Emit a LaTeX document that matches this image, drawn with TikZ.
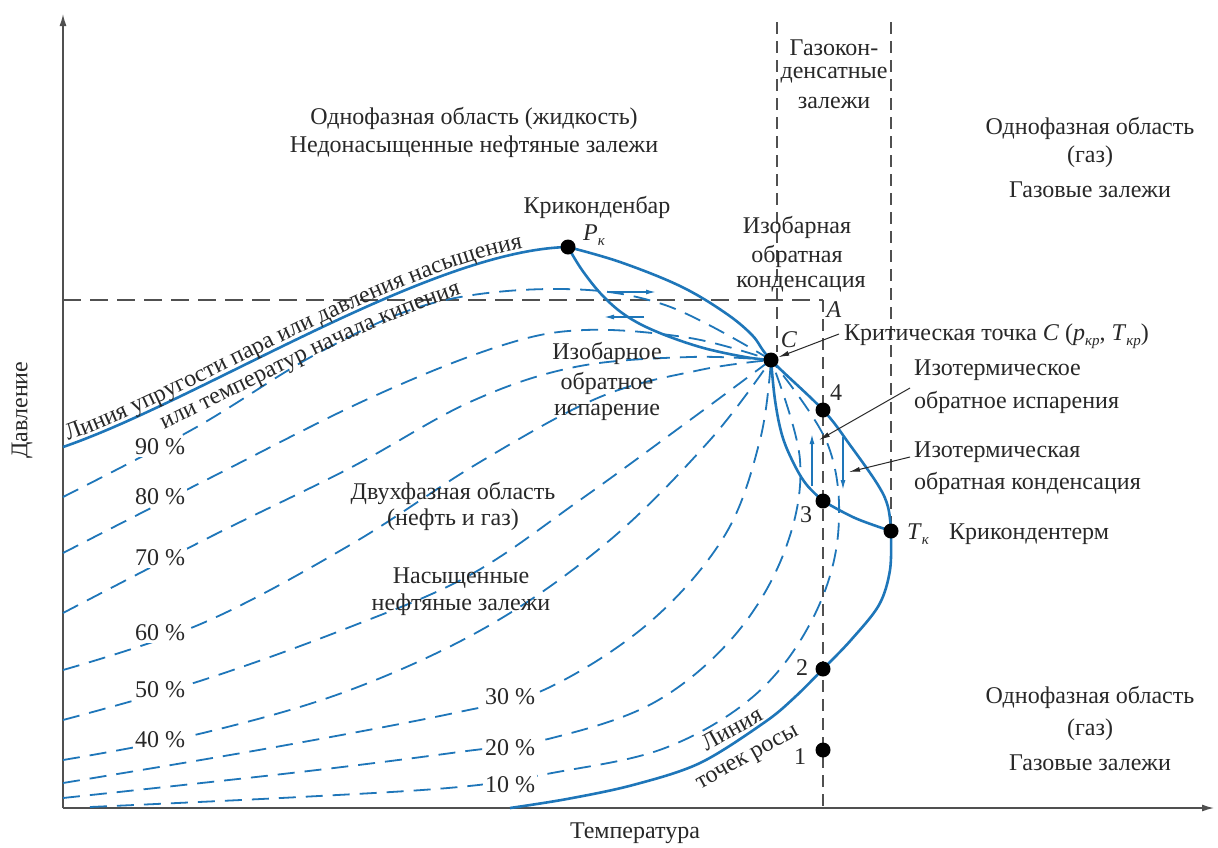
\documentclass[tikz,border=0pt]{standalone}
\usepackage{fontspec}
\setmainfont{Liberation Serif}
\usetikzlibrary{arrows.meta,decorations.text}
\definecolor{cblue}{RGB}{30,118,185}
\definecolor{cgray}{RGB}{80,80,80}
\definecolor{ctext}{RGB}{40,40,40}
\newcommand{\sbs}[1]{\raisebox{-0.45ex}{\fontsize{15}{15}\selectfont\itshape #1}}
\begin{document}
\begin{tikzpicture}[x=1pt,y=-1pt,
  lbl/.style={font=\fontsize{24}{28}\selectfont, inner sep=1pt, text=ctext},
  pct/.style={lbl, fill=white, inner sep=2pt},
  solidc/.style={cblue, line width=2.6pt},
  dashc/.style={cblue, line width=1.8pt, dash pattern=on 17pt off 10pt},
  guide/.style={cgray, line width=1.1pt, dash pattern=on 12pt off 7pt},
  hguide/.style={cgray, line width=1.1pt, dash pattern=on 18pt off 9pt},
  axisline/.style={cgray, line width=1.4pt, -{Latex[length=12pt,width=7pt]}},
  bdot/.style={circle, fill=black, inner sep=0pt, minimum size=15pt},
  barrow/.style={cblue, line width=1.4pt, -{Latex[length=10pt,width=5pt]}},
  karrow/.style={ctext, line width=1pt, -{Latex[length=11pt,width=5pt]}},
]
\useasboundingbox (0,0) rectangle (1218,847);
\fill[white] (0,0) rectangle (1218,847);

% key points
\coordinate (o) at (63,808);
\coordinate (ytop) at (63,14);
\coordinate (xend) at (1214,808);
\coordinate (Pk) at (568,247);
\coordinate (C) at (771,360);
\coordinate (P4) at (823,410);
\coordinate (P3) at (823,501);
\coordinate (Tk) at (891,531);
\coordinate (P2) at (823,669);
\coordinate (P1) at (823,750);

% axes
\draw[axisline] (o) -- (ytop);
\draw[axisline] (o) -- (xend);

% guide dashed lines
\coordinate (hl) at (63,300);
\coordinate (hA) at (823,300);
\coordinate (v1t) at (777,22);
\coordinate (v1b) at (777,352);
\coordinate (v2t) at (891,22);
\coordinate (xA) at (823,808);
\draw[hguide] (hl) -- (hA);
\draw[guide] (hA) -- (xA);
\draw[guide] (v1t) -- (v1b);
\draw[guide] (v2t) -- (Tk);

% dashed quality lines
\draw[dashc] plot[smooth, tension=0.6] coordinates {(63,497) (195,428) (320,352) (433,303) (560,289) (665,305) (C)};
\draw[dashc] plot[smooth, tension=0.6] coordinates {(63,553) (210,478) (370,398) (500,346) (585,330) (690,338) (C)};
\draw[dashc] plot[smooth, tension=0.6] coordinates {(63,613) (210,537) (350,468) (470,402) (575,367) (690,357) (C)};
\draw[dashc] plot[smooth, tension=0.6] coordinates {(63,670) (203,623) (350,545) (480,462) (600,397) (700,370) (C)};
\draw[dashc] plot[smooth, tension=0.6] coordinates {(63,720) (203,680) (350,627) (470,575) (580,500) (690,420) (C)};
\draw[dashc] plot[smooth, tension=0.6] coordinates {(63,760) (203,733) (350,690) (490,625) (610,540) (710,440) (C)};
\draw[dashc] plot[smooth, tension=0.6] coordinates {(63,783) (270,748) (459,712) (548,688) (650,622) (725,535) (760,440) (C)};
\draw[dashc] plot[smooth, tension=0.6] coordinates {(63,798) (300,772) (459,752) (552,738) (655,702) (735,635) (785,550) (800,460) (C)};
\draw[dashc] plot[smooth, tension=0.6] coordinates {(90,807) (300,797) (459,787) (552,773) (665,748) (755,695) (812,620) (838,535) (828,445) (C)};

% solid phase envelope
\draw[solidc] (63,447) .. controls (200,400) and (430,250) .. (Pk);
\draw[solidc] plot[smooth, tension=0.6] coordinates {(Pk) (620,262) (680,286) (724,312) (752,335) (C) (P4) (850,445) (878,485) (888,507) (Tk)};
\draw[solidc] plot[smooth, tension=0.55] coordinates {(Tk) (890,570) (879,605) (851,640) (P2) (795,697) (765,722) (700,763) (633,785) (567,799) (510,808)};
\draw[solidc] plot[smooth, tension=0.6] coordinates {(Pk) (582,270) (602,295) (625,315) (655,331) (700,347) (745,357) (C)};
\draw[solidc] plot[smooth, tension=0.6] coordinates {(C) (775,400) (782,435) (793,462) (806,484) (P3)};
\draw[solidc] plot[smooth, tension=0.6] coordinates {(P3) (855,518) (Tk)};

% text along the bubble-point line
\path[decorate, decoration={text along path, raise=4pt, text align={left indent=7pt},
  text={|\fontsize{24}{28}\selectfont\color{ctext}|Линия упругости пара или давления насыщения}}]
  (63,447) .. controls (200,400) and (430,250) .. (568,247);
\path[decorate, decoration={text along path, raise=0pt, text align={left indent=110pt},
  text={|\fontsize{24}{28}\selectfont\color{ctext}|или температур начала кипения}}]
  (63,472) .. controls (200,425) and (430,275) .. (568,272);

% blue process arrows
\coordinate (ar1) at (610,292); \coordinate (ar2) at (656,292);
\coordinate (al1) at (644,317); \coordinate (al2) at (604,317);
\coordinate (au1) at (812,486); \coordinate (au2) at (812,434);
\coordinate (ad1) at (843,437); \coordinate (ad2) at (843,490);
\draw[barrow] (ar1) -- (ar2);
\draw[barrow] (al1) -- (al2);
\draw[barrow] (au1) -- (au2);
\draw[barrow] (ad1) -- (ad2);

% dots
\node[bdot] (nPk) at (Pk) {};
\node[bdot] (nC) at (C) {};
\node[bdot] (n4) at (P4) {};
\node[bdot] (n3) at (P3) {};
\node[bdot] (nTk) at (Tk) {};
\node[bdot] (n2) at (P2) {};
\node[bdot] (n1) at (P1) {};

% percent labels
\node[pct] (p90) at (160,447) {90 \%};
\node[pct] (p80) at (160,497) {80 \%};
\node[pct] (p70) at (160,558) {70 \%};
\node[pct] (p60) at (160,633) {60 \%};
\node[pct] (p50) at (160,690) {50 \%};
\node[pct] (p40) at (160,740) {40 \%};
\node[pct] (p30) at (510,697) {30 \%};
\node[pct] (p20) at (510,748) {20 \%};
\node[pct] (p10) at (510,785) {10 \%};

% region texts
\node[lbl] (t1) at (474,118) {Однофазная область (жидкость)};
\node[lbl] (t2) at (474,147) {Недонасыщенные нефтяные залежи};
\node[lbl] (g1) at (834,48) {Газокон-};
\node[lbl] (g2) at (834,75) {денсатные};
\node[lbl] (g3) at (834,103) {залежи};
\node[lbl] (r1) at (1090,128) {Однофазная область};
\node[lbl] (r2) at (1090,157) {(газ)};
\node[lbl] (r3) at (1090,190) {Газовые залежи};
\node[lbl] (kb) at (597,207) {Криконденбар};
\node[lbl, anchor=west] (pkl) at (582,235) {\textit{P}\sbs{к}};
\node[lbl] (ib1) at (797,227) {Изобарная};
\node[lbl] (ib2) at (797,256) {обратная};
\node[lbl] (ib3) at (801,284) {конденсация};
\node[lbl] (la) at (834,310) {\textit{A}};
\node[lbl] (lc) at (789,340) {\textit{C}};
\node[lbl, anchor=west] (crit) at (843,336) {Критическая точка \textit{C} (\textit{p}\sbs{кр}, \textit{T}\sbs{кр})};
\node[lbl] (l4) at (836,393) {4};
\node[lbl] (l3) at (806,515) {3};
\node[lbl] (l2) at (802,668) {2};
\node[lbl] (l1) at (800,757) {1};
\node[lbl, anchor=west] (tkl) at (906,534) {\textit{T}\sbs{к}};
\node[lbl, anchor=west] (kt) at (948,534) {Крикондентерм};
\node[lbl, anchor=west] (ie1) at (913,370) {Изотермическое};
\node[lbl, anchor=west] (ie2) at (913,402) {обратное испарения};
\node[lbl, anchor=west] (ic1) at (913,452) {Изотермическая};
\node[lbl, anchor=west] (ic2) at (913,483) {обратная конденсация};
\node[lbl] (iz1) at (607,353) {Изобарное};
\node[lbl] (iz2) at (607,383) {обратное};
\node[lbl] (iz3) at (607,412) {испарение};
\node[lbl] (d1) at (453,493) {Двухфазная область};
\node[lbl] (d2) at (453,520) {(нефть и газ)};
\node[lbl] (s1) at (461,578) {Насыщенные};
\node[lbl] (s2) at (461,605) {нефтяные залежи};
\node[lbl] (r4) at (1090,697) {Однофазная область};
\node[lbl] (r5) at (1090,730) {(газ)};
\node[lbl] (r6) at (1090,763) {Газовые залежи};
\node[lbl, rotate=29, align=center, font=\fontsize{24}{30}\selectfont] (dw) at (740,744) {Линия\\точек росы};
\node[lbl, rotate=90] (ylab) at (22,410) {Давление};
\node[lbl] (xlab) at (635,833) {Температура};

% annotation arrows
\coordinate (ka) at (839,334);
\coordinate (kb1) at (910,388); \coordinate (kb2) at (819,440);
\coordinate (kc1) at (910,457); \coordinate (kc2) at (849,472);
\draw[karrow] (ka) -- (nC);
\draw[karrow] (kb1) -- (kb2);
\draw[karrow] (kc1) -- (kc2);
\end{tikzpicture}
\end{document}
